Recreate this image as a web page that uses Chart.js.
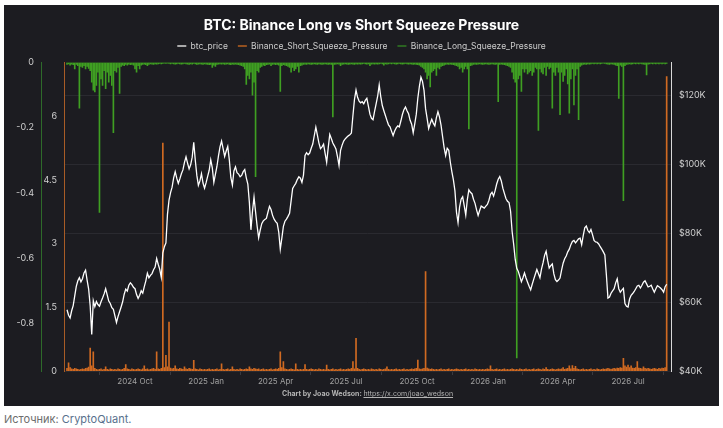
<!DOCTYPE html>
<html>
<head>
<meta charset="utf-8">
<script src="https://cdn.jsdelivr.net/npm/chart.js@4.4.1/dist/chart.umd.min.js"></script>
<style>
  body { margin: 0; background: #fff; font-family: Inter, sans-serif; }
  #panel { position: absolute; left: 4px; top: 5px; width: 715px; height: 401px; background: #1c1c21; }
  #credit { position: absolute; left: 0; top: 384px; width: 715px; padding-left: 12px; box-sizing: border-box;
            text-align: center; font: 700 7px Inter, sans-serif; color: #b4b4b4; }
  #credit a { color: #b4b4b4; font-weight: 400; text-decoration: underline; }
  #source { position: absolute; left: 4px; top: 412px; font: 11px Inter, sans-serif; color: #6d6d6d; }
  #source span { color: #58708c; }
</style>
</head>
<body>
<div id="panel">
  <canvas id="chart" width="715" height="401"></canvas>
  <div id="credit">Chart by Joao Wedson: <a>https://x.com/joao_wedson</a></div>
</div>
<div id="source">Источник: <span>CryptoQuant.</span></div>
<script>
// one sample every 2 days from startDate
const startDate = '2024-07-05';
const stepDays = 2;

const tickDates = ['2024-10-01', '2025-01-01', '2025-04-01', '2025-07-01', '2025-10-01', '2026-01-01', '2026-04-01', '2026-07-01'];
const tickLabels = ['2024 Oct', '2025 Jan', '2025 Apr', '2025 Jul', '2025 Oct', '2026 Jan', '2026 Apr', '2026 Jul'];

// BTC price, thousands of USD
const btcPriceK = [
    57.8, 56.2, 55.4, 57.5, 59.0, 61.8, 64.6, 66.2, 67.1, 65.9,
    66.8, 68.5, 69.3, 66.4, 63.8, 58.9, 50.6, 60.4, 58.7, 60.2,
    59.3, 58.8, 60.1, 61.2, 62.4, 63.9, 62.1, 60.3, 59.6, 58.4,
    57.9, 56.0, 54.1, 55.8, 57.2, 58.6, 60.1, 62.3, 63.8, 63.2,
    64.9, 65.6, 65.1, 64.3, 63.9, 62.2, 61.1, 62.0, 63.3, 62.6,
    64.5, 66.2, 68.4, 67.1, 67.8, 68.3, 69.4, 70.2, 72.7, 71.0,
    69.5, 67.2, 74.3, 76.1, 77.2, 85.5, 89.6, 91.8, 93.4, 96.1,
    97.9, 96.0, 94.5, 95.8, 97.3, 98.4, 100.6, 102.2, 100.4, 98.7,
    99.9, 102.1, 106.4, 101.2, 96.8, 93.9, 95.2, 97.3, 94.6, 93.1,
    94.7, 96.5, 98.3, 101.3, 99.0, 94.8, 97.1, 99.4, 102.5, 105.1,
    106.8, 104.6, 102.3, 103.9, 105.2, 101.4, 96.2, 94.0, 98.1, 99.3,
    97.6, 97.2, 96.4, 96.8, 97.9, 98.5, 96.1, 94.3, 88.9, 81.0,
    86.4, 90.5, 86.2, 82.1, 78.7, 80.9, 82.8, 83.6, 84.0, 84.3,
    86.1, 87.8, 86.9, 85.2, 84.1, 83.4, 82.9, 80.3, 75.4, 78.6,
    82.0, 83.5, 84.1, 84.9, 85.8, 89.4, 93.0, 93.8, 94.5, 95.6,
    96.4, 96.0, 94.8, 96.9, 102.6, 103.4, 102.8, 103.3, 104.7, 105.9,
    108.4, 110.8, 108.5, 106.2, 104.6, 105.1, 105.9, 103.2, 100.6, 104.8,
    108.7, 107.5, 106.2, 105.4, 104.5, 102.3, 99.7, 104.1, 105.6, 106.8,
    107.4, 107.9, 108.3, 108.6, 109.1, 114.2, 118.9, 121.6, 119.5, 118.4,
    117.9, 118.2, 117.6, 118.6, 119.2, 116.9, 114.6, 113.4, 113.0, 115.4,
    117.6, 119.8, 123.1, 119.7, 117.1, 115.6, 114.2, 112.8, 111.5, 110.9,
    109.6, 108.4, 109.7, 110.6, 111.2, 110.9, 112.6, 114.5, 115.9, 116.7,
    115.6, 114.7, 112.8, 111.7, 109.2, 111.8, 114.6, 119.3, 122.7, 125.3,
    124.1, 121.5, 116.2, 113.4, 110.4, 111.9, 113.1, 112.0, 111.2, 113.6,
    115.3, 113.8, 111.4, 108.1, 104.9, 102.6, 104.7, 104.1, 100.7, 97.9,
    95.5, 92.3, 86.1, 83.1, 87.6, 89.9, 90.6, 88.0, 85.3, 89.7,
    92.6, 91.9, 91.5, 89.9, 88.7, 86.8, 85.2, 86.6, 87.9, 87.6,
    87.3, 87.9, 88.4, 89.6, 91.3, 91.9, 90.8, 92.4, 94.3, 95.7,
    96.5, 95.2, 93.1, 91.6, 90.1, 89.3, 88.9, 86.4, 80.5, 76.8,
    72.4, 69.8, 68.9, 67.4, 65.9, 67.1, 68.5, 67.0, 65.8, 64.6,
    63.6, 65.2, 66.7, 68.1, 69.5, 68.3, 67.1, 69.6, 71.4, 73.6,
    74.8, 72.1, 69.9, 70.6, 71.1, 68.2, 66.5, 66.0, 66.4, 67.0,
    69.3, 71.3, 72.6, 73.4, 74.6, 75.4, 76.7, 77.6, 77.9, 77.2,
    77.8, 78.4, 78.6, 76.7, 79.3, 81.6, 82.1, 80.8, 80.2, 81.1,
    79.6, 77.9, 77.5, 77.4, 76.9, 76.1, 75.4, 74.6, 73.7, 67.9,
    61.2, 61.5, 62.6, 63.3, 63.9, 65.6, 66.8, 63.9, 62.9, 63.5,
    64.0, 59.6, 58.8, 58.6, 60.9, 62.0, 62.5, 63.1, 63.9, 64.7,
    64.9, 64.1, 64.9, 65.8, 66.2, 65.3, 64.4, 64.6, 64.9, 63.8,
    62.9, 63.9, 64.8, 64.5, 64.1, 63.6, 62.9, 64.5, 65.2
];

const shortSqueeze = [
    0.06, 0.19, 0.08, 0.05, 0.04, 0.06, 0.05, 0.04, 0.03, 0.04,
    0.05, 0.04, 0.06, 0.07, 0.09, 0.54, 0.12, 0.45, 0.06, 0.04,
    0.03, 0.04, 0.05, 0.03, 0.04, 0.10, 0.04, 0.03, 0.05, 0.04,
    0.03, 0.04, 0.03, 0.05, 0.04, 0.03, 0.04, 0.06, 0.15, 0.05,
    0.04, 0.03, 0.05, 0.04, 0.03, 0.04, 0.05, 0.04, 0.03, 0.05,
    0.12, 0.04, 0.05, 0.03, 0.04, 0.05, 0.06, 0.04, 0.45, 0.05,
    0.04, 0.06, 5.37, 0.08, 0.37, 0.10, 1.15, 0.07, 0.05, 0.06,
    0.12, 0.05, 0.04, 0.06, 0.05, 0.04, 0.10, 0.05, 0.04, 0.06,
    0.05, 0.04, 0.25, 0.05, 0.04, 0.03, 0.05, 0.04, 0.03, 0.04,
    0.03, 0.04, 0.05, 0.03, 0.04, 0.03, 0.04, 0.05, 0.03, 0.04,
    0.17, 0.04, 0.03, 0.04, 0.05, 0.03, 0.04, 0.10, 0.04, 0.03,
    0.04, 0.03, 0.05, 0.04, 0.03, 0.04, 0.05, 0.04, 0.10, 0.05,
    0.04, 0.06, 0.05, 0.04, 0.05, 0.03, 0.04, 0.05, 0.03, 0.04,
    0.03, 0.04, 0.05, 0.03, 0.04, 0.05, 0.04, 0.06, 0.45, 0.08,
    0.22, 0.05, 0.04, 0.03, 0.04, 0.05, 0.04, 0.03, 0.17, 0.04,
    0.03, 0.04, 0.03, 0.04, 0.15, 0.04, 0.03, 0.04, 0.05, 0.04,
    0.03, 0.04, 0.03, 0.05, 0.04, 0.03, 0.04, 0.03, 0.14, 0.04,
    0.03, 0.04, 0.05, 0.03, 0.04, 0.03, 0.04, 0.05, 0.03, 0.04,
    0.03, 0.04, 0.05, 0.04, 0.06, 0.22, 0.05, 0.77, 0.06, 0.04,
    0.03, 0.04, 0.05, 0.04, 0.03, 0.04, 0.03, 0.05, 0.04, 0.03,
    0.04, 0.03, 0.05, 0.04, 0.03, 0.04, 0.05, 0.10, 0.04, 0.03,
    0.04, 0.03, 0.04, 0.05, 0.03, 0.04, 0.03, 0.04, 0.05, 0.03,
    0.04, 0.03, 0.04, 0.05, 0.04, 0.05, 0.06, 0.26, 0.05, 0.04,
    0.05, 0.06, 2.34, 0.07, 0.05, 0.04, 0.05, 0.04, 0.03, 0.04,
    0.03, 0.04, 0.05, 0.03, 0.04, 0.03, 0.04, 0.05, 0.03, 0.04,
    0.03, 0.04, 0.05, 0.04, 0.03, 0.04, 0.03, 0.04, 0.05, 0.03,
    0.04, 0.03, 0.04, 0.03, 0.05, 0.04, 0.03, 0.04, 0.03, 0.04,
    0.03, 0.04, 0.05, 0.04, 0.12, 0.04, 0.03, 0.04, 0.05, 0.03,
    0.04, 0.03, 0.04, 0.05, 0.03, 0.04, 0.03, 0.04, 0.05, 0.04,
    0.03, 0.04, 0.03, 0.05, 0.04, 0.03, 0.04, 0.05, 0.03, 0.04,
    0.03, 0.04, 0.05, 0.03, 0.04, 0.05, 0.04, 0.03, 0.05, 0.04,
    0.08, 0.04, 0.03, 0.04, 0.05, 0.04, 0.03, 0.04, 0.05, 0.04,
    0.05, 0.08, 0.04, 0.05, 0.06, 0.12, 0.05, 0.13, 0.06, 0.11,
    0.05, 0.04, 0.03, 0.04, 0.05, 0.03, 0.04, 0.03, 0.04, 0.05,
    0.03, 0.04, 0.03, 0.05, 0.04, 0.03, 0.04, 0.05, 0.04, 0.05,
    0.06, 0.05, 0.04, 0.05, 0.06, 0.05, 0.07, 0.06, 0.08, 0.07,
    0.30, 0.12, 0.09, 0.14, 0.08, 0.12, 0.07, 0.06, 0.08, 0.22,
    0.07, 0.06, 0.05, 0.10, 0.06, 0.05, 0.06, 0.05, 0.04, 0.05,
    0.06, 0.05, 0.04, 0.06, 0.05, 0.07, 0.06, 0.08, 6.94
];

const longSqueeze = [
    -0.006, -0.004, -0.008, -0.005, -0.007, -0.02, -0.006, -0.01, -0.14, -0.012,
    -0.015, -0.01, -0.02, -0.012, -0.018, -0.025, -0.06, -0.085, -0.09, -0.07,
    -0.03, -0.46, -0.05, -0.07, -0.025, -0.08, -0.03, -0.06, -0.04, -0.07,
    -0.215, -0.025, -0.03, -0.015, -0.095, -0.012, -0.008, -0.01, -0.006, -0.008,
    -0.005, -0.007, -0.006, -0.008, -0.02, -0.03, -0.01, -0.02, -0.008, -0.006,
    -0.005, -0.007, -0.01, -0.006, -0.004, -0.005, -0.006, -0.004, -0.005, -0.004,
    -0.003, -0.004, -0.003, -0.002, -0.003, -0.002, -0.003, -0.004, -0.003, -0.004,
    -0.005, -0.004, -0.003, -0.004, -0.005, -0.004, -0.003, -0.004, -0.005, -0.006,
    -0.004, -0.005, -0.003, -0.004, -0.006, -0.005, -0.004, -0.005, -0.006, -0.004,
    -0.005, -0.006, -0.007, -0.006, -0.015, -0.008, -0.012, -0.006, -0.005, -0.004,
    -0.005, -0.004, -0.006, -0.005, -0.004, -0.006, -0.007, -0.005, -0.006, -0.005,
    -0.006, -0.007, -0.008, -0.01, -0.012, -0.02, -0.067, -0.04, -0.05, -0.03,
    -0.1, -0.06, -0.35, -0.025, -0.03, -0.015, -0.012, -0.008, -0.01, -0.007,
    -0.006, -0.005, -0.01, -0.006, -0.005, -0.007, -0.006, -0.008, -0.089, -0.01,
    -0.007, -0.008, -0.01, -0.012, -0.015, -0.03, -0.015, -0.025, -0.02, -0.012,
    -0.03, -0.01, -0.008, -0.006, -0.005, -0.006, -0.004, -0.005, -0.006, -0.005,
    -0.004, -0.005, -0.006, -0.004, -0.005, -0.006, -0.005, -0.004, -0.005, -0.006,
    -0.005, -0.006, -0.167, -0.006, -0.005, -0.004, -0.005, -0.01, -0.006, -0.005,
    -0.004, -0.005, -0.006, -0.005, -0.004, -0.005, -0.006, -0.004, -0.005, -0.004,
    -0.005, -0.004, -0.003, -0.004, -0.005, -0.004, -0.01, -0.005, -0.004, -0.005,
    -0.004, -0.005, -0.004, -0.003, -0.004, -0.008, -0.004, -0.005, -0.004, -0.003,
    -0.004, -0.003, -0.004, -0.005, -0.004, -0.003, -0.004, -0.005, -0.004, -0.003,
    -0.004, -0.005, -0.004, -0.005, -0.006, -0.005, -0.006, -0.007, -0.008, -0.012,
    -0.015, -0.02, -0.03, -0.05, -0.04, -0.075, -0.03, -0.025, -0.02, -0.04,
    -0.015, -0.02, -0.012, -0.01, -0.008, -0.006, -0.005, -0.006, -0.005, -0.006,
    -0.007, -0.008, -0.01, -0.012, -0.02, -0.015, -0.03, -0.02, -0.012, -0.02,
    -0.204, -0.01, -0.008, -0.006, -0.005, -0.006, -0.005, -0.004, -0.005, -0.006,
    -0.005, -0.004, -0.005, -0.006, -0.005, -0.004, -0.005, -0.006, -0.005, -0.12,
    -0.006, -0.005, -0.006, -0.007, -0.008, -0.01, -0.012, -0.015, -0.03, -0.05,
    -0.06, -0.906, -0.05, -0.04, -0.089, -0.02, -0.03, -0.02, -0.035, -0.03,
    -0.025, -0.04, -0.03, -0.015, -0.02, -0.208, -0.02, -0.03, -0.035, -0.015,
    -0.04, -0.012, -0.02, -0.015, -0.14, -0.03, -0.04, -0.015, -0.03, -0.16,
    -0.03, -0.058, -0.04, -0.02, -0.066, -0.155, -0.05, -0.02, -0.13, -0.04,
    -0.02, -0.175, -0.012, -0.008, -0.006, -0.005, -0.006, -0.004, -0.005, -0.004,
    -0.003, -0.004, -0.003, -0.004, -0.003, -0.004, -0.003, -0.002, -0.003, -0.004,
    -0.005, -0.006, -0.004, -0.005, -0.006, -0.008, -0.01, -0.11, -0.008, -0.012,
    -0.424, -0.01, -0.006, -0.005, -0.004, -0.005, -0.004, -0.003, -0.004, -0.003,
    -0.004, -0.003, -0.004, -0.005, -0.006, -0.038, -0.005, -0.004, -0.003, -0.004,
    -0.003, -0.004, -0.003, -0.004, -0.003, -0.004, -0.003, -0.004, -0.003
];

function dayOffset(d) {
    return (Date.parse(d) - Date.parse(startDate)) / 86400000;
}
const days = btcPriceK.map((v, i) => i * stepDays);
const tickDays = tickDates.map(dayOffset);
const toPoints = arr => arr.map((v, i) => ({ x: days[i], y: v }));

Chart.defaults.font.family = 'Inter, sans-serif';

const ctx = document.getElementById('chart').getContext('2d');
new Chart(ctx, {
    data: {
        datasets: [{
            type: 'line',
            label: 'btc_price',
            data: toPoints(btcPriceK),
            yAxisID: 'yP',
            borderColor: '#ffffff',
            borderWidth: 1.3,
            pointRadius: 0,
            tension: 0,
            order: 0,
            legendColor: '#d9d9d9'
        }, {
            type: 'bar',
            label: 'Binance_Short_Squeeze_Pressure',
            data: toPoints(shortSqueeze),
            yAxisID: 'yS',
            backgroundColor: '#d06a22',
            barThickness: 1,
            grouped: false,
            order: 2,
            legendColor: '#b8601f'
        }, {
            type: 'bar',
            label: 'Binance_Long_Squeeze_Pressure',
            data: toPoints(longSqueeze),
            yAxisID: 'yL',
            backgroundColor: '#3f9f22',
            barThickness: 1,
            grouped: false,
            order: 1,
            legendColor: '#2f7a22'
        }]
    },
    options: {
        responsive: false,
        animation: false,
        events: [],
        layout: { padding: 0 },
        plugins: {
            title: {
                display: true,
                text: 'BTC: Binance Long vs Short Squeeze Pressure',
                color: '#ffffff',
                font: { size: 14, weight: 'bold' },
                padding: { top: 12.6, bottom: -2.65 }
            },
            legend: {
                display: true,
                labels: {
                    color: '#cccccc',
                    font: { size: 8.5 },
                    boxWidth: 9,
                    boxHeight: 1.5,
                    padding: 10,
                    generateLabels: chart => chart.data.datasets.map((ds, i) => ({
                        text: ds.label,
                        fillStyle: ds.legendColor,
                        strokeStyle: ds.legendColor,
                        lineWidth: 0,
                        hidden: false,
                        datasetIndex: i,
                        fontColor: '#cccccc'
                    }))
                }
            },
            // empty spacer between legend and plot
            subtitle: {
                display: true,
                text: '',
                weight: 500,
                font: { size: 1 },
                padding: { top: 0, bottom: 1.05 }
            },
            tooltip: { enabled: false }
        },
        scales: {
            x: {
                type: 'linear',
                min: -3.9,
                max: 781.6,
                offset: false,
                border: { display: false },
                grid: { display: true, drawOnChartArea: false, drawTicks: true, tickLength: 4, color: '#3a3a40' },
                afterBuildTicks: scale => { scale.ticks = tickDays.map(v => ({ value: v })); },
                ticks: {
                    autoSkip: false,
                    maxRotation: 0,
                    padding: 2,
                    color: '#a0a0a0',
                    font: { size: 8 },
                    callback: (v, i) => tickLabels[i]
                },
                afterFit: scale => { scale.height = 35; }
            },
            yL: {
                type: 'linear',
                position: 'left',
                weight: 2,
                min: -0.946,
                max: 0,
                border: { display: true, color: '#2e6a2a', width: 1 },
                grid: { display: false, drawTicks: false },
                ticks: {
                    stepSize: 0.2,
                    includeBounds: false,
                    padding: 7,
                    color: '#cfcfcf',
                    font: { size: 9 },
                    callback: v => String(+v.toFixed(1))
                },
                afterFit: scale => { scale.width = 37; }
            },
            yS: {
                type: 'linear',
                position: 'left',
                weight: 1,
                min: 0,
                max: 7.27,
                border: { display: true, color: '#a85c26', width: 1 },
                grid: { display: false, drawTicks: false },
                ticks: {
                    stepSize: 1.5,
                    includeBounds: false,
                    padding: 7,
                    color: '#cfcfcf',
                    font: { size: 9 },
                    callback: v => String(+v.toFixed(2))
                },
                afterFit: scale => { scale.width = 23; }
            },
            yP: {
                type: 'linear',
                position: 'right',
                min: 40,
                max: 129.6,
                border: { display: true, color: '#d8d8d8', width: 1 },
                grid: { display: true, drawTicks: false, color: '#2a2a30' },
                ticks: {
                    stepSize: 20,
                    includeBounds: false,
                    padding: 8,
                    color: '#cfcfcf',
                    font: { size: 9 },
                    callback: v => '$' + v + 'K'
                },
                afterFit: scale => { scale.width = 48; }
            }
        }
    }
});
</script>
</body>
</html>
